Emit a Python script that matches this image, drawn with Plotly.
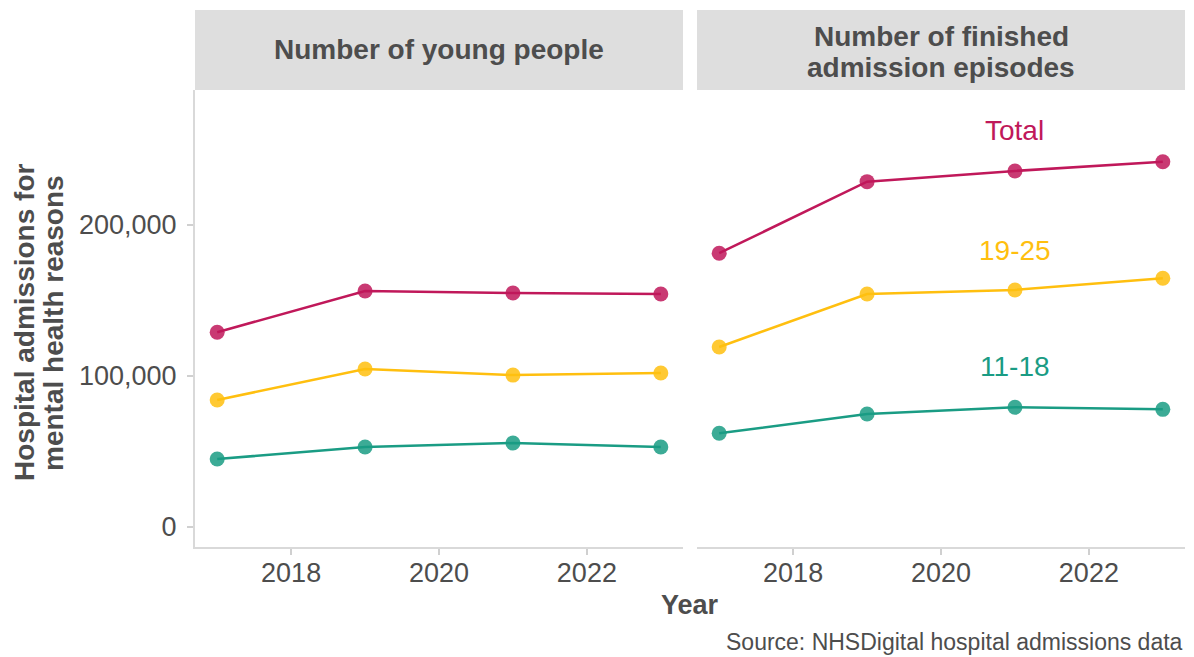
import plotly.graph_objects as go

years = [2017, 2019, 2021, 2023]
series_names = ["Total", "19-25", "11-18"]
colors = {"Total": "#C0185A", "19-25": "#FFBF0F", "11-18": "#1A9C84"}

# Panel 1: Number of young people
people_total = [129000, 156300, 155000, 154300]
people_1925 = [84100, 104600, 100600, 102000]
people_1118 = [45000, 53000, 55600, 53000]

# Panel 2: Number of finished admission episodes
episodes_total = [181300, 228700, 235800, 241900]
episodes_1925 = [119200, 154300, 157000, 164700]
episodes_1118 = [62100, 74800, 79300, 77900]

panel_titles = [["Number of young people"], ["Number of finished", "admission episodes"]]
label_years = [2021, 2021, 2021]
label_values = [262900, 183400, 106200]

y_ticks = [0, 100000, 200000]
y_ticklabels = ["0", "100,000", "200,000"]
x_ticks = [2018, 2020, 2022]

FONT = "Liberation Sans, Arial, sans-serif"
TXT = "#4D4D4D"

fig = go.Figure()
panels = [
    ("x", "y", [people_total, people_1925, people_1118]),
    ("x2", "y2", [episodes_total, episodes_1925, episodes_1118]),
]
for xa, ya, data in panels:
    for name, vals in zip(series_names, data):
        fig.add_trace(go.Scatter(
            x=years, y=vals, mode="lines+markers", name=name,
            xaxis=xa, yaxis=ya, showlegend=False,
            line=dict(color=colors[name], width=2.5),
            marker=dict(color=colors[name], size=15, opacity=0.85),
        ))

# page is rendered with an 8px body margin -> figure coords = page coords - 8
W, H = 1186, 649
ml, mr, mt, mb = 187, 9, 82, 110
pw = W - ml - mr
ph = H - mt - mb
plot_bottom = H - mb
d1 = [0, 488 / pw]
d2 = [502 / pw, 1]
yrange = [-13245, 289400]
xrange = [2016.7, 2023.3]

def py(fig_y):
    return (plot_bottom - fig_y) / ph

def px(fig_x):
    return (fig_x - ml) / pw

axis_common = dict(
    range=xrange, tickvals=x_ticks, ticks="outside", ticklen=6, tickwidth=1.5,
    tickcolor="#D0D0D0", showgrid=False, zeroline=False, showline=True,
    linecolor="#D9D9D9", linewidth=2, ticklabelstandoff=-5,
    tickfont=dict(family=FONT, size=27, color=TXT),
)
fig.update_layout(
    width=W, height=H, paper_bgcolor="white", plot_bgcolor="white",
    margin=dict(l=ml, r=mr, t=mt, b=mb),
    xaxis=dict(domain=d1, anchor="y", **axis_common),
    xaxis2=dict(domain=d2, anchor="y2", **axis_common),
    yaxis=dict(range=yrange, tickvals=y_ticks, ticktext=y_ticklabels, ticks="outside",
               ticklen=6, tickwidth=1.5, tickcolor="#D0D0D0", showgrid=False, zeroline=False,
               showline=True, linecolor="#D9D9D9", linewidth=2, ticklabelstandoff=5,
               tickfont=dict(family=FONT, size=27, color=TXT)),
    yaxis2=dict(range=yrange, anchor="x2", matches="y", showticklabels=False, ticks="",
                showgrid=False, zeroline=False, showline=False),
)

# strips
strip_bottom = 1.0
strip_top = py(2)
for dom, lines in zip([d1, d2], panel_titles):
    fig.add_shape(type="rect", xref="paper", yref="paper", x0=dom[0], x1=dom[1],
                  y0=strip_bottom, y1=strip_top, fillcolor="#DEDEDE", line=dict(width=0), layer="below")
    centers = [42] if len(lines) == 1 else [28, 59]
    for line_text, cy in zip(lines, centers):
        fig.add_annotation(xref="paper", yref="paper", x=(dom[0] + dom[1]) / 2,
                           y=py(cy), text="<b>" + line_text + "</b>", showarrow=False,
                           font=dict(family=FONT, size=28, color=TXT), xanchor="center", yanchor="middle")

# series labels
for name, lx, ly in zip(series_names, label_years, label_values):
    fig.add_annotation(x=lx, y=ly, xref="x2", yref="y2", text=name, showarrow=False,
                       font=dict(family=FONT, size=28, color=colors[name]),
                       xanchor="center", yanchor="middle")

# axis titles
for line_text, fx in [("Hospital admissions for", 16), ("mental health reasons", 45)]:
    fig.add_annotation(xref="paper", yref="paper", x=px(fx), y=py(315),
                       text="<b>" + line_text + "</b>", textangle=-90,
                       showarrow=False, font=dict(family=FONT, size=28, color=TXT),
                       xanchor="center", yanchor="middle")
fig.add_annotation(xref="paper", yref="paper", x=px(682), y=py(597),
                   text="<b>Year</b>", showarrow=False, font=dict(family=FONT, size=27, color=TXT),
                   xanchor="center", yanchor="middle")
fig.add_annotation(xref="paper", yref="paper", x=1.0, y=py(634),
                   text="Source: NHSDigital hospital admissions data", showarrow=False,
                   font=dict(family=FONT, size=23, color=TXT), xanchor="right", yanchor="middle")

fig.write_html("out.html")
